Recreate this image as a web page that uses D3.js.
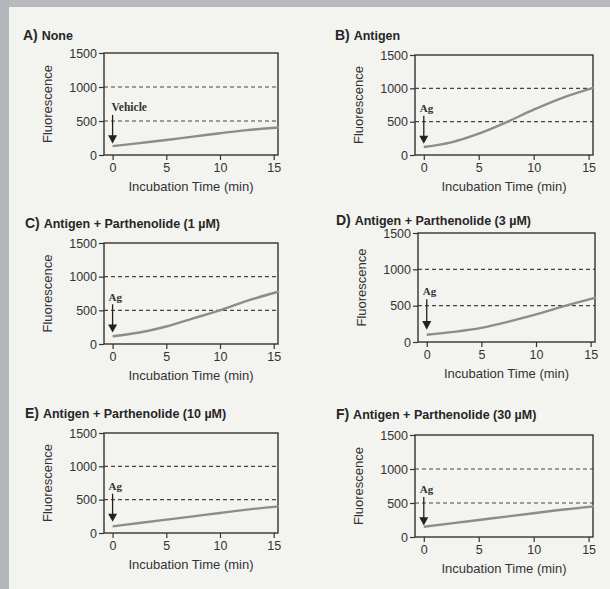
<!DOCTYPE html>
<html>
<head>
<meta charset="utf-8">
<script src="https://cdn.jsdelivr.net/npm/d3@7"></script>
<style>
  body { margin: 0; background: #f3f3f0; }
  svg { display: block; font-family: "Liberation Sans", Arial, sans-serif; }
  .tick text { font-size: 12.5px; fill: #333; }
  .tick line, .domain { stroke: #333; stroke-width: 1.2; }
</style>
</head>
<body>
<svg id="chart"></svg>
<script>
// panel data
const panelLetters = ['A)', 'B)', 'C)', 'D)', 'E)', 'F)'];
const panelTitles = ['None', 'Antigen', 'Antigen + Parthenolide (1 µM)', 'Antigen + Parthenolide (3 µM)',
  'Antigen + Parthenolide (10 µM)', 'Antigen + Parthenolide (30 µM)'];
const arrowLabels = ['Vehicle', 'Ag', 'Ag', 'Ag', 'Ag', 'Ag'];
const times = [0, 2.5, 5, 7.5, 10, 12.5, 15.5];
const seriesA = [130, 175, 220, 270, 320, 365, 405];
const seriesB = [120, 190, 320, 490, 680, 850, 1010];
const seriesC = [115, 170, 260, 380, 500, 640, 780];
const seriesD = [100, 140, 195, 280, 380, 490, 610];
const seriesE = [100, 150, 200, 250, 300, 350, 400];
const seriesF = [150, 200, 250, 300, 350, 400, 450];
const allSeries = [seriesA, seriesB, seriesC, seriesD, seriesE, seriesF];
const yTicks = [0, 500, 1000, 1500];
const xTicks = [0, 5, 10, 15];
const refLines = [500, 1000];

// layout of each panel box on the page
const boxes = [
  {x: 104, y: 53, w: 174, h: 102, tx: 23, ty: 40},
  {x: 415, y: 55, w: 178, h: 100, tx: 335, ty: 40},
  {x: 104, y: 243, w: 174, h: 101, tx: 25, ty: 228},
  {x: 418, y: 233, w: 177, h: 109, tx: 336, ty: 225},
  {x: 104, y: 433, w: 174, h: 100, tx: 25, ty: 418},
  {x: 415, y: 435, w: 178, h: 102, tx: 336, ty: 419}
];

const width = 610, height = 589;
const svg = d3.select('#chart').attr('width', width).attr('height', height);

svg.append('rect').attr('width', width).attr('height', height).attr('fill', '#f3f3f0');
// scanned page frame
svg.append('rect').attr('x', 0).attr('y', 0).attr('width', width).attr('height', 7).attr('fill', '#b7bbbe');
svg.append('rect').attr('x', 0).attr('y', 0).attr('width', 9).attr('height', height).attr('fill', '#b3b7bb');

boxes.forEach((b, i) => {
  const g = svg.append('g').attr('transform', `translate(${b.x},${b.y})`);
  const x = d3.scaleLinear().domain([-0.8, 15.4]).range([0, b.w]);
  const y = d3.scaleLinear().domain([0, 1500]).range([b.h, 0]);

  // title
  const t = svg.append('text').attr('x', b.tx).attr('y', b.ty)
    .attr('font-weight', 'bold').attr('fill', '#262626');
  t.append('tspan').attr('font-size', '14px').text(panelLetters[i] + ' ');
  t.append('tspan').attr('font-size', '12.5px').text(panelTitles[i]);

  // reference lines
  g.selectAll('.ref').data(refLines).join('line')
    .attr('class', 'ref')
    .attr('x1', 0).attr('x2', b.w)
    .attr('y1', d => y(d)).attr('y2', d => y(d))
    .attr('stroke', '#444').attr('stroke-width', 1.2)
    .attr('stroke-dasharray', '4,3');

  // frame
  g.append('rect').attr('width', b.w).attr('height', b.h)
    .attr('fill', 'none').attr('stroke', '#333').attr('stroke-width', 1.4);

  g.append('g').attr('transform', `translate(0,${b.h})`)
    .call(d3.axisBottom(x).tickValues(xTicks).tickFormat(d3.format('d')).tickSize(5).tickPadding(3))
    .call(a => a.select('.domain').remove());
  g.append('g')
    .call(d3.axisLeft(y).tickValues(yTicks).tickFormat(d3.format('d')).tickSize(5).tickPadding(2))
    .call(a => a.select('.domain').remove());

  // data trace
  const line = d3.line().x(d => x(d[0])).y(d => y(d[1])).curve(d3.curveMonotoneX);
  g.append('path').datum(times.map((tm, k) => [tm, allSeries[i][k]]))
    .attr('d', line).attr('fill', 'none')
    .attr('stroke', '#8c8c8c').attr('stroke-width', 2.4);

  // addition arrow
  g.append('line').attr('x1', x(0)).attr('x2', x(0))
    .attr('y1', y(590)).attr('y2', y(260))
    .attr('stroke', '#222').attr('stroke-width', 1.3);
  g.append('path')
    .attr('d', `M${x(0) - 4.5},${y(290)} L${x(0) + 4.5},${y(290)} L${x(0)},${y(170)} Z`)
    .attr('fill', '#222');
  g.append('text').attr('x', x(0) + (i === 0 ? -1 : -4)).attr('y', y(640))
    .attr('font-family', '"Liberation Serif", "DejaVu Serif", serif')
    .attr('font-weight', 'bold').attr('font-size', i === 0 ? '11.5px' : '11px').attr('fill', '#333')
    .text(arrowLabels[i]);

  // axis labels
  g.append('text').attr('x', b.w / 2).attr('y', b.h + 36)
    .attr('text-anchor', 'middle').attr('font-size', '13px').attr('fill', '#333')
    .text('Incubation Time (min)');
  g.append('text').attr('transform', `translate(-52,${b.h / 2}) rotate(-90)`)
    .attr('text-anchor', 'middle').attr('font-size', '13px').attr('fill', '#333')
    .text('Fluorescence');
});
</script>
</body>
</html>
